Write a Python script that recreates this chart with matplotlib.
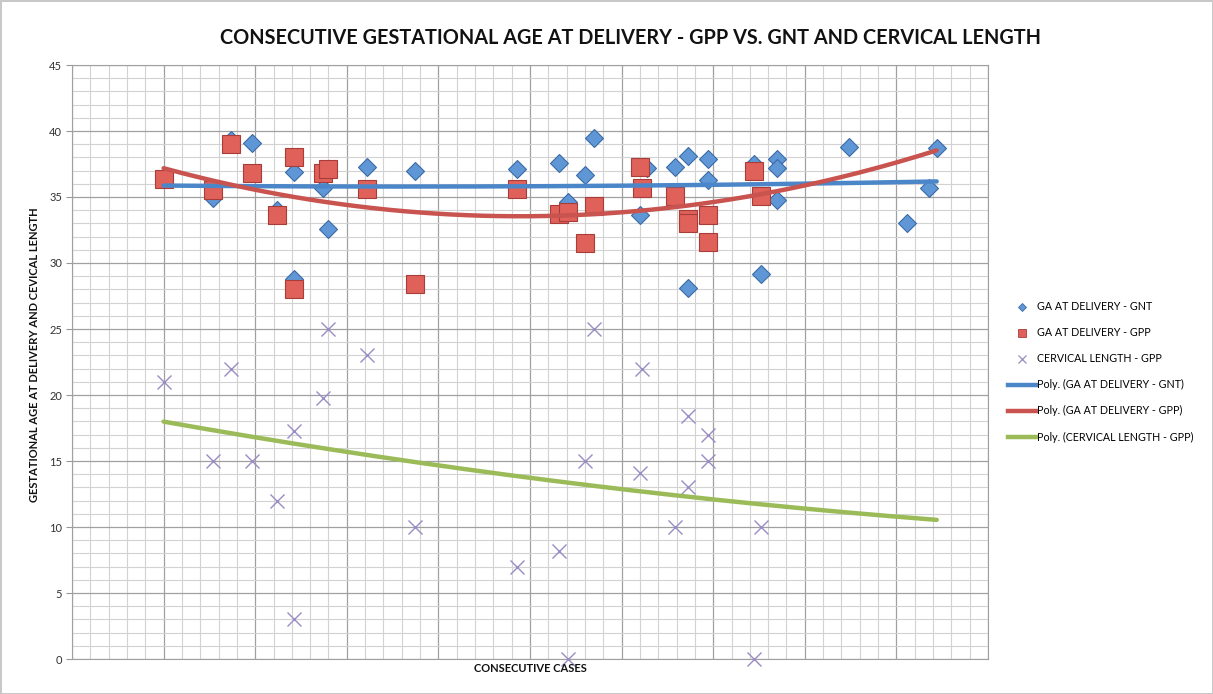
import numpy as np
import matplotlib
matplotlib.use("Agg")
import matplotlib.pyplot as plt
from matplotlib.lines import Line2D
from matplotlib.ticker import MultipleLocator, NullFormatter

# ---- data ----
x_gnt = [5.0, 7.7, 8.7, 9.8, 11.2, 12.1, 12.1, 13.7, 14.0, 16.1, 18.7, 24.3, 26.6,
         27.1, 28.0, 28.5, 31.0, 31.4, 32.9, 33.6, 33.6, 34.7, 34.7, 37.2, 37.6,
         38.5, 38.5, 38.5, 42.4, 45.6, 46.8, 47.2]
ga_gnt = [36.4, 34.9, 39.3, 39.1, 34.0, 36.9, 28.8, 35.7, 32.6, 37.3, 37.0, 37.1, 37.6,
          34.6, 36.7, 39.5, 33.6, 37.2, 37.3, 38.1, 28.1, 37.9, 36.3, 37.5, 29.2,
          37.9, 37.2, 34.8, 38.8, 33.0, 35.7, 38.7]

x_gpp = [5.0, 7.7, 8.7, 9.8, 11.2, 12.1, 12.1, 13.7, 14.0, 16.1, 18.7, 24.3, 26.6,
         27.1, 28.0, 28.5, 31.0, 31.1, 32.9, 33.6, 33.6, 34.7, 34.7, 37.2, 37.6]
ga_gpp = [36.4, 35.5, 39.0, 36.8, 33.6, 38.0, 28.0, 36.8, 37.1, 35.6, 28.4, 35.6, 33.7,
          33.9, 31.5, 34.3, 37.3, 35.7, 35.1, 33.3, 33.0, 33.6, 31.6, 37.0, 35.1]
cl_gpp = [21.0, 15.0, 22.0, 15.0, 12.0, 17.3, 3.0, 19.8, 25.0, 23.0, 10.0, 7.0, 8.2,
          0.0, 15.0, 25.0, 14.1, 22.0, 10.0, 18.4, 13.0, 17.0, 15.0, 0.0, 10.0]

title = "CONSECUTIVE GESTATIONAL AGE AT DELIVERY - GPP VS. GNT AND CERVICAL LENGTH"
ylabel = "GESTATIONAL AGE AT DELIVERY AND CEVICAL LENGTH"
xlabel = "CONSECUTIVE CASES"
labels = ["GA AT DELIVERY - GNT", "GA AT DELIVERY - GPP", "CERVICAL LENGTH - GPP",
          "Poly. (GA AT DELIVERY - GNT)", "Poly. (GA AT DELIVERY - GPP)",
          "Poly. (CERVICAL LENGTH - GPP)"]

plt.rcParams['font.family'] = ['Lato', 'DejaVu Sans']

c_blue_f, c_blue_e = '#5f97d6', '#3a6aa5'
c_red_f, c_red_e = '#e0605a', '#a83c38'
c_x = '#9a8cc4'
c_tb, c_tr, c_tg = '#4a86c8', '#c9534f', '#9bbb59'

fig = plt.figure(figsize=(12.13, 6.94), dpi=100)
fig.patch.set_edgecolor('#c8c8c8')
fig.patch.set_linewidth(2)
ax = fig.add_axes([72/1213, 1-659/694, (988-72)/1213, (659-65)/694])

ax.set_xlim(0, 50)
ax.set_ylim(0, 45)
ax.xaxis.set_major_locator(MultipleLocator(5))
ax.xaxis.set_minor_locator(MultipleLocator(1))
ax.yaxis.set_major_locator(MultipleLocator(5))
ax.yaxis.set_minor_locator(MultipleLocator(1))
ax.grid(which='major', color='#a0a0a0', lw=0.9)
ax.grid(which='minor', color='#d2d2d2', lw=0.8)
ax.set_axisbelow(True)
ax.xaxis.set_major_formatter(NullFormatter())
ax.tick_params(axis='x', which='both', length=0)
ax.tick_params(axis='y', which='minor', length=0)
ax.tick_params(axis='y', which='major', length=4, color='#999999', labelsize=8,
               labelcolor='#333333', pad=3)
for s in ax.spines.values():
    s.set_color('#a0a0a0')

ax.plot(x_gnt, ga_gnt, ls='none', marker='D', ms=9.3, mfc=c_blue_f, mec=c_blue_e,
        mew=0.8, zorder=3)
ax.plot(x_gpp, ga_gpp, ls='none', marker='s', ms=13, mfc=c_red_f, mec=c_red_e,
        mew=0.8, zorder=4)
ax.plot(x_gpp, cl_gpp, ls='none', marker='x', ms=10.5, mec=c_x, mew=1.0, zorder=4,
        clip_on=False)

xs = np.linspace(min(x_gnt), max(x_gnt), 200)
for xx, yy, col in [(x_gnt, ga_gnt, c_tb), (x_gpp, ga_gpp, c_tr), (x_gpp, cl_gpp, c_tg)]:
    p = np.polyfit(xx, yy, 2)
    ax.plot(xs, np.polyval(p, xs), color=col, lw=3.2, solid_capstyle='round', zorder=5)

fig.text(630/1213, 1-38/694, title, ha='center', va='center', fontsize=14.3,
         fontweight='bold', color='#111111')
fig.text(35/1213, 1-355/694, ylabel, rotation=90, ha='center', va='center',
         fontsize=8, fontweight='bold', color='#111111')
fig.text(530/1213, 1-669/694, xlabel, ha='center', va='center', fontsize=8,
         fontweight='bold', color='#111111')

handles = [
    Line2D([], [], ls='none', marker='D', ms=4.5, mfc=c_blue_f, mec=c_blue_e, mew=0.6),
    Line2D([], [], ls='none', marker='s', ms=6, mfc=c_red_f, mec=c_red_e, mew=0.6),
    Line2D([], [], ls='none', marker='x', ms=6, mec=c_x, mew=0.9),
    Line2D([], [], color=c_tb, lw=3.2),
    Line2D([], [], color=c_tr, lw=3.2),
    Line2D([], [], color=c_tg, lw=3.2),
]
leg = fig.legend(handles, labels, loc='center left',
                 bbox_to_anchor=(1008/1213, 1-372/694), frameon=False,
                 fontsize=7.7, handlelength=2.6, handletextpad=0.1,
                 labelspacing=1.4, borderpad=0, borderaxespad=0)

fig.savefig('out.png', dpi=100)
